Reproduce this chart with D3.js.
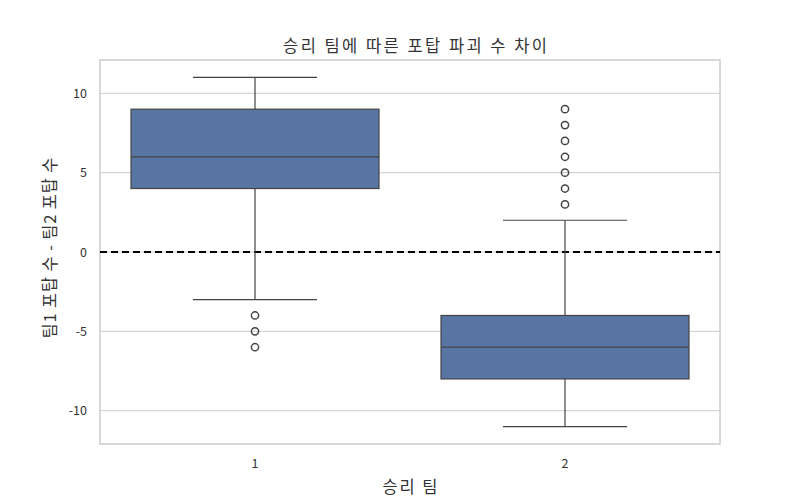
<!DOCTYPE html>
<html>
<head>
<meta charset="utf-8">
<script src="https://cdn.jsdelivr.net/npm/d3@7"></script>
<style>
    body { margin: 0; background: #fff; }
    text { font-family: "Noto Sans CJK KR", "Noto Sans", sans-serif; fill: #333; }
</style>
</head>
<body>
<script>
// box plot: turret difference by winning team

const categories = ['1', '2'];
const q1 = [4, -8];
const medians = [6, -6];
const q3 = [9, -4];
const whiskerLow = [-3, -11];
const whiskerHigh = [11, 2];
const outliers = [
    [-4, -5, -6],
    [3, 4, 5, 6, 7, 8, 9]
];
const yTicks = [-10, -5, 0, 5, 10];

const width = 800, height = 500;
const margin = { top: 60, right: 80, bottom: 56, left: 100 };

const svg = d3.select('body').append('svg')
    .attr('width', width)
    .attr('height', height);

const x = d3.scaleBand()
    .domain(categories)
    .range([margin.left, width - margin.right])
    .paddingInner(0.2)
    .paddingOuter(0.1);

const y = d3.scaleLinear()
    .domain([-12.1, 12.1])
    .range([height - margin.bottom, margin.top]);

// grid
svg.append('g')
    .selectAll('line')
    .data(yTicks)
    .enter()
    .append('line')
    .attr('x1', margin.left)
    .attr('x2', width - margin.right)
    .attr('y1', d => y(d))
    .attr('y2', d => y(d))
    .attr('stroke', '#cccccc')
    .attr('stroke-width', 1);

// axes
svg.append('g')
    .attr('transform', 'translate(' + margin.left + ',0)')
    .call(d3.axisLeft(y).tickValues(yTicks).tickSize(0).tickPadding(13)
        .tickFormat(d => d < 0 ? '-' + Math.abs(d) : d))
    .call(g => g.select('.domain').remove())
    .selectAll('text')
    .style('font-size', '12.5px')
    .attr('fill', '#333');

svg.append('g')
    .attr('transform', 'translate(0,' + (height - margin.bottom) + ')')
    .call(d3.axisBottom(x).tickSize(0).tickPadding(15))
    .call(g => g.select('.domain').remove())
    .selectAll('text')
    .style('font-size', '12.5px')
    .attr('fill', '#333');

// frame
svg.append('rect')
    .attr('x', margin.left)
    .attr('y', margin.top)
    .attr('width', width - margin.left - margin.right)
    .attr('height', height - margin.top - margin.bottom)
    .attr('fill', 'none')
    .attr('stroke', '#cccccc')
    .attr('stroke-width', 1.5);

// zero line
svg.append('line')
    .attr('x1', margin.left)
    .attr('x2', width - margin.right)
    .attr('y1', y(0))
    .attr('y2', y(0))
    .attr('stroke', '#000')
    .attr('stroke-width', 2)
    .attr('stroke-dasharray', '7,4');

const boxes = svg.append('g')
    .selectAll('g')
    .data(categories)
    .enter()
    .append('g');

const bw = x.bandwidth();
const cx = d => x(d) + bw / 2;

// whiskers
boxes.append('line')
    .attr('x1', d => cx(d)).attr('x2', d => cx(d))
    .attr('y1', (d, i) => y(whiskerLow[i]))
    .attr('y2', (d, i) => y(q1[i]))
    .attr('stroke', '#444').attr('stroke-width', 1.2);
boxes.append('line')
    .attr('x1', d => cx(d)).attr('x2', d => cx(d))
    .attr('y1', (d, i) => y(whiskerHigh[i]))
    .attr('y2', (d, i) => y(q3[i]))
    .attr('stroke', '#444').attr('stroke-width', 1.2);
boxes.append('line')
    .attr('x1', d => cx(d) - bw / 4).attr('x2', d => cx(d) + bw / 4)
    .attr('y1', (d, i) => y(whiskerLow[i]))
    .attr('y2', (d, i) => y(whiskerLow[i]))
    .attr('stroke', '#444').attr('stroke-width', 1.2);
boxes.append('line')
    .attr('x1', d => cx(d) - bw / 4).attr('x2', d => cx(d) + bw / 4)
    .attr('y1', (d, i) => y(whiskerHigh[i]))
    .attr('y2', (d, i) => y(whiskerHigh[i]))
    .attr('stroke', '#444').attr('stroke-width', 1.2);

// box
boxes.append('rect')
    .attr('x', d => x(d))
    .attr('width', bw)
    .attr('y', (d, i) => y(q3[i]))
    .attr('height', (d, i) => y(q1[i]) - y(q3[i]))
    .attr('fill', '#5875a4')
    .attr('stroke', '#444')
    .attr('stroke-width', 1.2);

// median
boxes.append('line')
    .attr('x1', d => x(d)).attr('x2', d => x(d) + bw)
    .attr('y1', (d, i) => y(medians[i]))
    .attr('y2', (d, i) => y(medians[i]))
    .attr('stroke', '#444').attr('stroke-width', 1.2);

// outliers
boxes.each(function (d, i) {
    d3.select(this).selectAll('circle')
        .data(outliers[i])
        .enter()
        .append('circle')
        .attr('cx', cx(d))
        .attr('cy', v => y(v))
        .attr('r', 3.6)
        .attr('fill', 'none')
        .attr('stroke', '#444')
        .attr('stroke-width', 1.5);
});

// labels
svg.append('text')
    .attr('x', 415)
    .attr('y', 52)
    .attr('text-anchor', 'middle')
    .attr('textLength', 264)
    .attr('lengthAdjust', 'spacing')
    .style('font-size', '16.5px')
    .text('승리 팀에 따른 포탑 파괴 수 차이');

svg.append('text')
    .attr('x', 410)
    .attr('y', 493)
    .attr('text-anchor', 'middle')
    .attr('textLength', 55)
    .attr('lengthAdjust', 'spacing')
    .style('font-size', '16.5px')
    .text('승리 팀');

svg.append('text')
    .attr('transform', 'translate(56,248) rotate(-90)')
    .attr('text-anchor', 'middle')
    .attr('textLength', 181)
    .attr('lengthAdjust', 'spacing')
    .style('font-size', '16.5px')
    .text('팀1 포탑 수 - 팀2 포탑 수');
</script>
</body>
</html>
